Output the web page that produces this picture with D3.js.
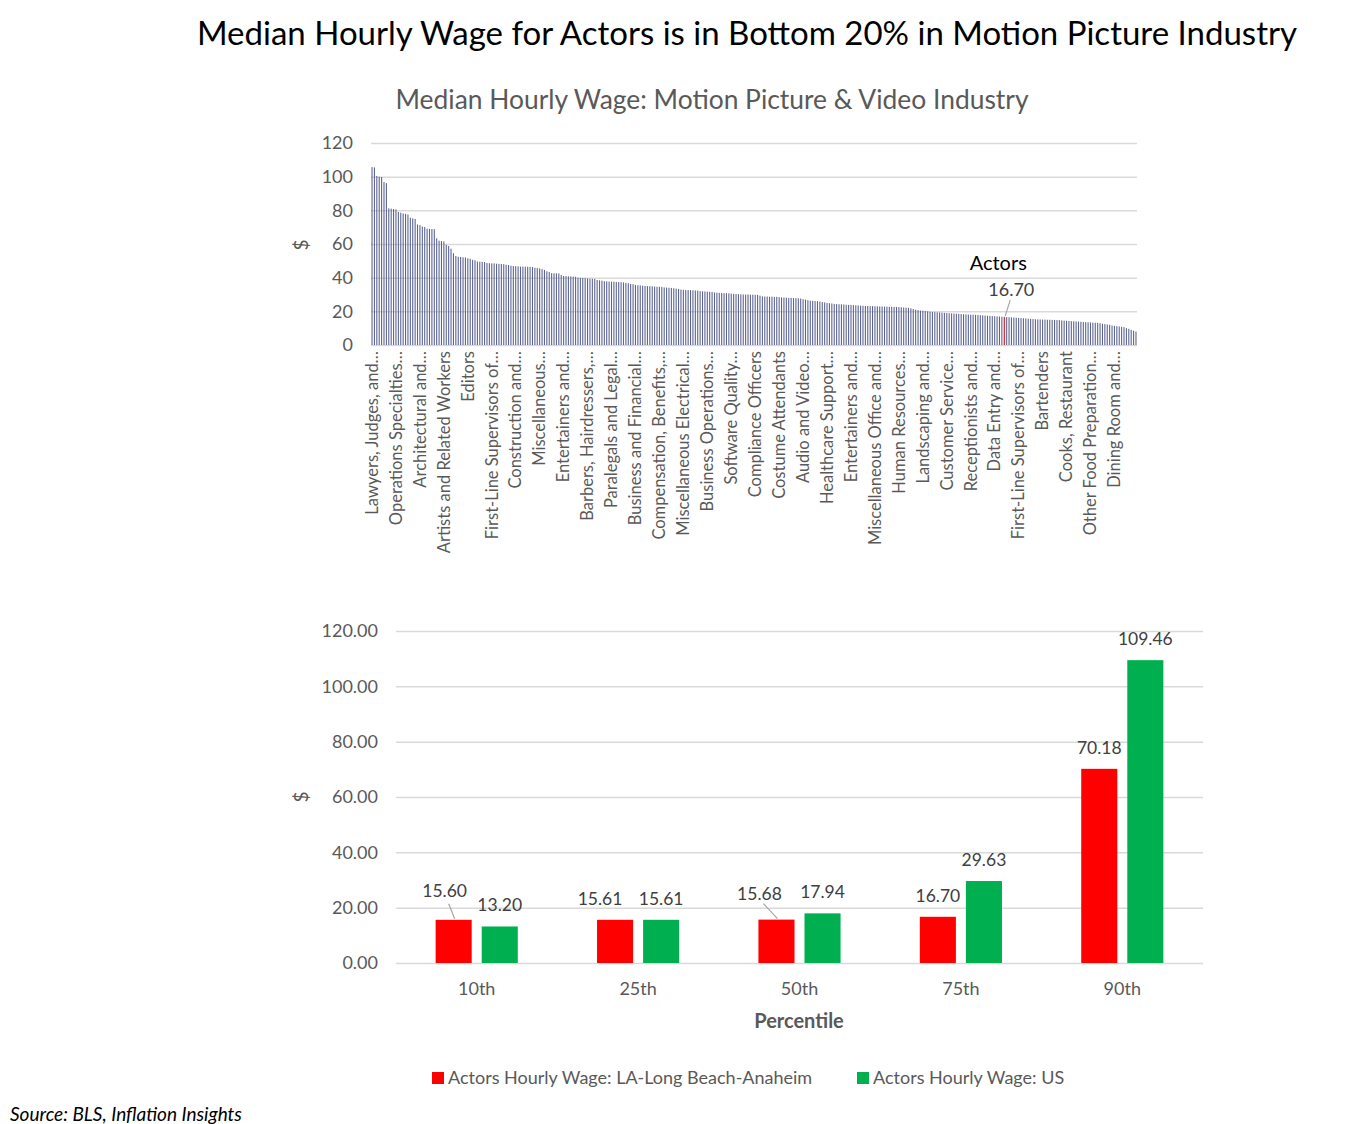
<!DOCTYPE html>
<meta charset="utf-8">
<style>
body { margin: 0; background: #fff; }
svg { display: block; font-family: Lato, "Open Sans", sans-serif; }
.grid line { stroke: #d9d9d9; stroke-width: 1.5; }
.grid .domain { display: none; }
.tick text { fill: #595959; }
</style>
<body>
<script src="https://d3js.org/d3.v7.min.js"></script>
<script>

// ---- top chart: median hourly wage by occupation, sorted
var wageValues = [
  105.7, 105.5, 100.4, 100.0, 99.8, 96.8, 96.2, 81.2, 81.0, 80.8,
  80.5, 79.0, 78.6, 78.2, 77.9, 77.5, 75.6, 75.2, 74.9, 71.6,
  71.2, 70.4, 70.1, 69.1, 69.0, 68.9, 68.8, 63.4, 62.0, 61.8,
  61.5, 59.5, 58.8, 57.2, 54.5, 52.9, 52.4, 52.3, 52.1, 52.0,
  51.5, 51.2, 50.6, 50.3, 49.6, 49.5, 49.4, 49.3, 48.7, 48.6,
  48.5, 48.5, 48.3, 48.2, 48.1, 48.0, 47.7, 47.5, 47.1, 46.9,
  46.8, 46.7, 46.6, 46.6, 46.5, 46.5, 46.4, 46.3, 45.9, 45.7,
  45.5, 45.1, 44.6, 43.8, 43.4, 42.7, 42.6, 42.6, 42.5, 41.6,
  41.0, 40.9, 40.8, 40.7, 40.6, 40.5, 40.0, 39.9, 39.8, 39.7,
  39.5, 39.4, 39.3, 39.2, 38.6, 38.4, 38.2, 37.9, 37.8, 37.7,
  37.6, 37.6, 37.5, 37.4, 37.3, 37.2, 36.9, 36.7, 36.3, 36.1,
  35.7, 35.5, 35.4, 35.2, 35.1, 35.0, 34.9, 34.9, 34.7, 34.6,
  34.6, 34.5, 34.2, 34.1, 34.0, 33.9, 33.7, 33.5, 33.3, 32.9,
  32.8, 32.7, 32.6, 32.6, 32.5, 32.4, 32.3, 32.0, 31.9, 31.8,
  31.7, 31.6, 31.5, 31.2, 31.1, 31.0, 30.9, 30.8, 30.8, 30.7,
  30.5, 30.4, 30.3, 30.2, 30.1, 30.0, 30.0, 30.0, 29.9, 29.9,
  29.8, 29.8, 29.3, 28.9, 28.8, 28.8, 28.7, 28.7, 28.6, 28.6,
  28.4, 28.3, 28.2, 28.1, 28.0, 28.0, 27.9, 27.8, 27.7, 27.6,
  27.2, 26.9, 26.6, 26.3, 26.2, 26.1, 26.0, 25.8, 25.5, 25.3,
  25.0, 24.8, 24.7, 24.4, 24.3, 24.2, 24.2, 24.1, 23.9, 23.8,
  23.8, 23.7, 23.6, 23.5, 23.4, 23.3, 23.2, 23.2, 23.1, 23.1,
  23.0, 23.0, 22.9, 22.9, 22.8, 22.8, 22.7, 22.7, 22.6, 22.6,
  22.5, 22.4, 22.3, 22.2, 22.1, 21.8, 21.4, 21.0, 20.7, 20.5,
  20.4, 20.2, 20.0, 19.8, 19.6, 19.5, 19.4, 19.3, 19.2, 19.1,
  19.0, 18.9, 18.8, 18.7, 18.6, 18.5, 18.4, 18.3, 18.2, 18.1,
  18.0, 18.0, 17.9, 17.8, 17.7, 17.6, 17.5, 17.4, 17.3, 17.2,
  17.1, 17.0, 16.9, 16.8, 16.70, 16.6, 16.5, 16.4, 16.3, 16.2,
  16.1, 16.0, 15.9, 15.8, 15.6, 15.5, 15.4, 15.3, 15.2, 15.2,
  15.1, 15.1, 15.0, 15.0, 14.9, 14.9, 14.8, 14.8, 14.6, 14.5,
  14.4, 14.3, 14.2, 14.1, 14.0, 13.9, 13.8, 13.7, 13.6, 13.5,
  13.4, 13.3, 13.2, 13.1, 13.0, 12.6, 12.4, 12.2, 12.0, 11.6,
  11.4, 11.2, 11.0, 10.8, 10.6, 10.0, 9.6, 9.0, 8.5, 8.0
];

// only every 10th occupation gets a label on the axis
var occupationLabels = [
  "Lawyers, Judges, and…", "Operations Specialties…", "Architectural and…",
  "Artists and Related Workers", "Editors", "First-Line Supervisors of…",
  "Construction and…", "Miscellaneous…", "Entertainers and…",
  "Barbers, Hairdressers,…", "Paralegals and Legal…", "Business and Financial…",
  "Compensation, Benefits,…", "Miscellaneous Electrical…", "Business Operations…",
  "Software Quality…", "Compliance Officers", "Costume Attendants",
  "Audio and Video…", "Healthcare Support…", "Entertainers and…",
  "Miscellaneous Office and…", "Human Resources…", "Landscaping and…",
  "Customer Service…", "Receptionists and…", "Data Entry and…",
  "First-Line Supervisors of…", "Bartenders", "Cooks, Restaurant",
  "Other Food Preparation…", "Dining Room and…"
];
var labelEvery = 10;
var actorsWage = 16.70;
var topTicks = [0, 20, 40, 60, 80, 100, 120];

// ---- bottom chart: actors' wage by percentile
var percentiles = ["10th", "25th", "50th", "75th", "90th"];
var laWages = [15.60, 15.61, 15.68, 16.70, 70.18];
var usWages = [13.20, 15.61, 17.94, 29.63, 109.46];
var seriesNames = ["Actors Hourly Wage: LA-Long Beach-Anaheim", "Actors Hourly Wage: US"];
var bottomTicks = [0, 20, 40, 60, 80, 100, 120];

var W = 1346, H = 1124;
var svg = d3.select("body").append("svg").attr("width", W).attr("height", H);

// titles
svg.append("text")
    .attr("x", 747).attr("y", 45)
    .attr("text-anchor", "middle")
    .style("font-size", "33px").style("fill", "#000")
    .text("Median Hourly Wage for Actors is in Bottom 20% in Motion Picture Industry");

svg.append("text")
    .attr("x", 712).attr("y", 109)
    .attr("text-anchor", "middle")
    .style("font-size", "26.4px").style("fill", "#595959")
    .text("Median Hourly Wage: Motion Picture & Video Industry");

// ===== top chart
var xTop = d3.scaleBand()
    .domain(d3.range(wageValues.length))
    .range([371, 1137])
    .paddingInner(0.55)
    .paddingOuter(0.2);

var yTop = d3.scaleLinear().domain([0, 120]).range([345, 143]);

svg.append("g")
    .attr("class", "grid")
    .attr("transform", "translate(371,0)")
    .call(d3.axisLeft(yTop).tickValues(topTicks).tickSize(-(1137 - 371)).tickPadding(18).tickFormat(d3.format("d")))
    .attr("font-family", null)
    .selectAll("text").style("font-size", "18px");

var actorsIndex = wageValues.indexOf(actorsWage);

svg.append("g").selectAll("rect")
    .data(wageValues)
  .enter().append("rect")
    .attr("x", function(d, i) { return xTop(i); })
    .attr("y", function(d) { return yTop(d); })
    .attr("width", xTop.bandwidth())
    .attr("height", function(d) { return yTop(0) - yTop(d); })
    .attr("fill", function(d, i) { return i == actorsIndex ? "#e00000" : "#5b6391"; });

var xAxisTop = svg.append("g")
    .attr("transform", "translate(0,345)")
    .call(d3.axisBottom(xTop)
      .tickValues(d3.range(0, wageValues.length, labelEvery))
      .tickSize(0)
      .tickFormat(function(i) { return occupationLabels[i / labelEvery]; }))
    .attr("font-family", null);
xAxisTop.select(".domain").remove();
xAxisTop.selectAll("text")
    .attr("transform", "rotate(-90)")
    .attr("x", -6).attr("y", 0).attr("dy", "0.35em")
    .style("text-anchor", "end")
    .style("font-size", "16.5px");

svg.append("text")
    .attr("transform", "translate(308,245) rotate(-90)")
    .attr("text-anchor", "middle")
    .style("font-size", "19px").style("fill", "#595959")
    .text("$");

// actors callout
var ax = xTop(actorsIndex) + xTop.bandwidth() / 2, ay = yTop(actorsWage);
svg.append("line")
    .attr("x1", ax + 6).attr("y1", ay - 17)
    .attr("x2", ax + 1).attr("y2", ay - 1)
    .attr("stroke", "#a6a6a6").attr("stroke-width", 1.2);
svg.append("text")
    .attr("x", ax + 7).attr("y", ay - 21)
    .attr("text-anchor", "middle")
    .style("font-size", "18px").style("fill", "#404040")
    .text(d3.format(".2f")(actorsWage));
svg.append("text")
    .attr("x", ax - 6).attr("y", ay - 47)
    .attr("text-anchor", "middle")
    .style("font-size", "20px").style("fill", "#000")
    .text("Actors");

// ===== bottom chart
var x0 = d3.scaleBand().domain(percentiles).range([396, 1203]);
var x1 = d3.scaleBand().domain([0, 1]).range([0, x0.bandwidth()])
    .paddingInner(0.217).paddingOuter(0.86);
var yBot = d3.scaleLinear().domain([0, 120]).range([963, 631]);
var colors = ["#ff0000", "#00b050"];

svg.append("g")
    .attr("class", "grid")
    .attr("transform", "translate(396,0)")
    .call(d3.axisLeft(yBot).tickValues(bottomTicks).tickSize(-(1203 - 396)).tickPadding(18).tickFormat(d3.format(".2f")))
    .attr("font-family", null)
    .selectAll("text").style("font-size", "18px");

var rows = percentiles.map(function(p, i) {
  return { pct: p, vals: [laWages[i], usWages[i]] };
});

// label nudges where the original moved labels aside (some with leader lines)
var nudge = { "0-10th": [-9, -8, true], "0-25th": [-15, 0, false], "0-50th": [-17, -5, true] };

var groups = svg.append("g").selectAll("g")
    .data(rows)
  .enter().append("g")
    .attr("transform", function(d) { return "translate(" + x0(d.pct) + ",0)"; });

var cells = groups.selectAll("g")
    .data(function(d) { return d.vals.map(function(v, s) { return { s: s, v: v, pct: d.pct }; }); })
  .enter().append("g");

cells.append("rect")
    .attr("x", function(d) { return x1(d.s); })
    .attr("y", function(d) { return yBot(d.v); })
    .attr("width", x1.bandwidth())
    .attr("height", function(d) { return yBot(0) - yBot(d.v); })
    .attr("fill", function(d) { return colors[d.s]; });

cells.each(function(d) {
  var g = d3.select(this);
  var cx = x1(d.s) + x1.bandwidth() / 2, top = yBot(d.v);
  var n = nudge[d.s + "-" + d.pct] || [0, 0, false];
  if (n[2]) {
    g.append("line")
      .attr("x1", cx + n[0] + 4).attr("y1", top - 16)
      .attr("x2", cx + 1).attr("y2", top - 1)
      .attr("stroke", "#a6a6a6").attr("stroke-width", 1.2);
  }
  g.append("text")
    .attr("x", cx + n[0]).attr("y", top - 15 + n[1])
    .attr("text-anchor", "middle")
    .style("font-size", "17.5px").style("fill", "#404040")
    .text(d3.format(".2f")(d.v));
});

var xAxisBot = svg.append("g")
    .attr("transform", "translate(0,963)")
    .call(d3.axisBottom(x0).tickSize(0).tickPadding(19))
    .attr("font-family", null);
xAxisBot.select(".domain").remove();
xAxisBot.selectAll("text").style("font-size", "18px");

svg.append("text")
    .attr("x", 799).attr("y", 1028)
    .attr("text-anchor", "middle")
    .style("font-size", "20px").style("font-weight", "bold").style("fill", "#595959")
    .text("Percentile");

svg.append("text")
    .attr("transform", "translate(308,797) rotate(-90)")
    .attr("text-anchor", "middle")
    .style("font-size", "19px").style("fill", "#595959")
    .text("$");

// legend
var legendX = [432, 857];
var legend = svg.append("g").selectAll("g")
    .data(seriesNames)
  .enter().append("g")
    .attr("transform", function(d, i) { return "translate(" + legendX[i] + ",1072)"; });
legend.append("rect").attr("width", 12).attr("height", 12)
    .attr("fill", function(d, i) { return colors[i]; });
legend.append("text").attr("x", 16).attr("y", 12)
    .style("font-size", "18px").style("fill", "#595959")
    .text(function(d) { return d; });

svg.append("text")
    .attr("x", 10).attr("y", 1121)
    .style("font-size", "19px").style("font-style", "italic").style("fill", "#000")
    .text("Source: BLS, Inflation Insights");

</script>
</body>
